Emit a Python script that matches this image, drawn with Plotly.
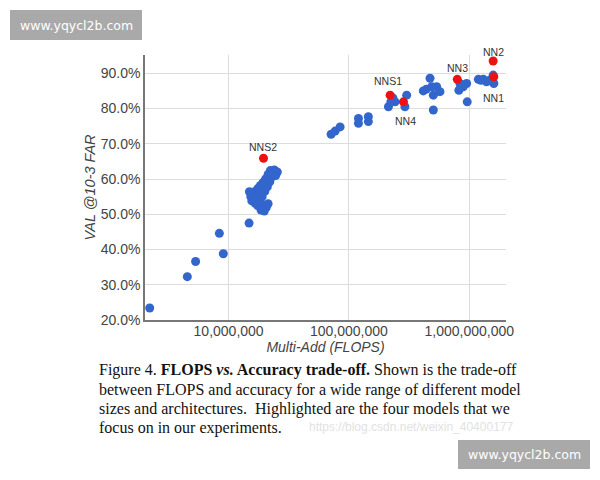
import math
import plotly.graph_objects as go

# ---------------- data ----------------
# FLOPS in millions, accuracy in percent (VAL @ 1e-3 FAR)
blue_flops_m = [
    2.21, 4.54, 5.32, 8.38, 9.04, 14.8,
    22.2, 24.0, 25.4, 24.6, 23.0, 21.3, 20.3, 19.3, 18.4, 17.6, 16.8, 16.0,
    15.3, 14.9, 15.6, 16.6, 17.4, 18.2, 19.0, 20.0, 21.0, 22.0, 19.4, 18.6,
    19.8, 20.6, 21.3, 17.8, 16.4, 18.8, 20.4, 23.2,
    71.1, 76.8, 84.5, 120, 120, 145, 145,
    213, 223, 242, 292, 302, 232,
    415, 472, 488, 536, 571, 503, 503, 440,
    837, 951, 820, 891, 962,
    1190, 1310, 1390, 1490, 1580, 1600, 1250,
]
blue_acc = [
    23.4, 32.3, 36.6, 44.6, 38.8, 47.5,
    62.4, 62.6, 62.0, 61.0, 60.6, 61.3, 60.0, 59.0, 58.2, 57.4, 56.6, 55.8,
    55.0, 56.4, 53.8, 53.2, 52.5, 54.0, 55.0, 56.5, 57.8, 59.2, 52.6, 51.2,
    50.9, 52.0, 53.0, 55.6, 54.4, 57.0, 58.6, 61.8,
    72.7, 73.6, 74.8, 77.2, 75.8, 77.7, 76.3,
    80.5, 81.9, 81.9, 80.5, 83.8, 83.0,
    85.0, 88.6, 86.2, 86.2, 84.8, 83.8, 79.6, 85.5,
    87.1, 87.1, 85.2, 86.2, 81.9,
    88.3, 88.3, 87.6, 88.1, 89.5, 87.1, 88.0,
]

red_names = ["NNS2", "NNS1", "NN4", "NN3", "NN2", "NN1"]
red_flops_m = [19.5, 220, 284, 795, 1580, 1600]
red_acc = [65.9, 83.8, 81.9, 88.3, 93.5, 89.0]

x_tick_vals = [1e7, 1e8, 1e9]
x_tick_text = ["10,000,000", "100,000,000", "1,000,000,000"]

caption_lines = [
    "Figure 4. <b>FLOPS <i>vs.</i> Accuracy trade-off.</b> Shown is the trade-off",
    "between FLOPS and accuracy for a wide range of different model",
    "sizes and architectures.  Highlighted are the four models that we",
    "focus on in our experiments.",
]
watermark_text = "www.yqycl2b.com"
csdn_text = "https://blog.csdn.net/weixin_40400177"

# ---------------- layout geometry ----------------
W, H = 600, 480
L, R, T, B = 145, 506, 55, 320   # plot area in pixels
PW, PH = R - L, B - T


def px_x(px):
    return (px - L) / PW


def px_y(py):
    return (B - py) / PH


BLUE = "#3366cc"
RED = "#ee1111"

fig = go.Figure()
fig.add_trace(go.Scatter(
    x=[v * 1e6 for v in blue_flops_m], y=[v / 100 for v in blue_acc],
    mode="markers", marker=dict(color=BLUE, size=9, line=dict(width=0)),
    hoverinfo="skip", showlegend=False,
))
fig.add_trace(go.Scatter(
    x=[v * 1e6 for v in red_flops_m], y=[v / 100 for v in red_acc],
    mode="markers", marker=dict(color=RED, size=9, line=dict(width=0)),
    hoverinfo="skip", showlegend=False,
))

# point labels: (x shift, y shift) in pixels
label_shift = {"NNS2": (0, 11), "NNS1": (-2, 14), "NN4": (2, -19),
               "NN3": (0, 11), "NN2": (0, 9), "NN1": (0, -21)}
annotations = []
for name, fx, acc in zip(red_names, red_flops_m, red_acc):
    dx, dy = label_shift[name]
    annotations.append(dict(
        x=math.log10(fx * 1e6), y=acc / 100, xref="x", yref="y",
        text=name, showarrow=False, xshift=dx, yshift=dy,
        font=dict(family="Liberation Sans, Arial", size=10.5, color="#333333"),
    ))

# caption
cap_y = [370, 390, 409, 428]
for line, cy in zip(caption_lines, cap_y):
    annotations.append(dict(
        x=px_x(97), y=px_y(cy), xref="paper", yref="paper",
        xanchor="left", yanchor="middle", text=line, showarrow=False,
        font=dict(family="Liberation Serif, Times New Roman", size=16, color="#111111"),
    ))

annotations.append(dict(
    x=px_x(515), y=px_y(427), xref="paper", yref="paper",
    xanchor="right", yanchor="middle", text=csdn_text, showarrow=False,
    font=dict(family="Liberation Sans, Arial", size=12, color="#e2e2e2"),
))

# watermarks
shapes = []
for (x0, y0, x1, y1) in [(10, 10, 142, 40), (458, 440, 590, 469)]:
    shapes.append(dict(type="rect", xref="paper", yref="paper",
                       x0=px_x(x0), x1=px_x(x1), y0=px_y(y1), y1=px_y(y0),
                       fillcolor="#a9a9a9", line=dict(width=0), layer="above"))
    annotations.append(dict(
        x=px_x((x0 + x1) / 2), y=px_y((y0 + y1) / 2), xref="paper", yref="paper",
        xanchor="center", yanchor="middle", text=watermark_text, showarrow=False,
        font=dict(family="DejaVu Sans", size=12.5, color="#ffffff"),
    ))

fig.update_layout(
    width=W, height=H,
    margin=dict(l=L, r=W - R, t=T, b=H - B, pad=0),
    paper_bgcolor="white", plot_bgcolor="white",
    font=dict(family="Liberation Sans, Arial", color="#444444"),
    annotations=annotations, shapes=shapes,
    xaxis=dict(
        type="log", range=[math.log10(2.02e6), math.log10(2.02e9)],
        tickvals=x_tick_vals, ticktext=x_tick_text,
        tickfont=dict(size=14, color="#444444"),
        ticklabelstandoff=-3,
        showgrid=True, gridcolor="#dddddd", gridwidth=1,
        showline=True, linecolor="#777777", linewidth=1.5,
        ticks="", zeroline=False,
        title=dict(text="<i>Multi-Add (FLOPS)</i>", standoff=0,
                   font=dict(size=14, color="#444444")),
    ),
    yaxis=dict(
        range=[0.2, 0.952], tick0=0.2, dtick=0.1, tickformat=".1%",
        tickfont=dict(size=14, color="#444444"),
        showgrid=True, gridcolor="#dddddd", gridwidth=1,
        showline=True, linecolor="#777777", linewidth=1.5,
        ticks="", zeroline=False,
        title=dict(text="<i>VAL @10-3 FAR</i>", standoff=2,
                   font=dict(size=14.5, color="#444444")),
    ),
)

fig.write_html("out.html")
